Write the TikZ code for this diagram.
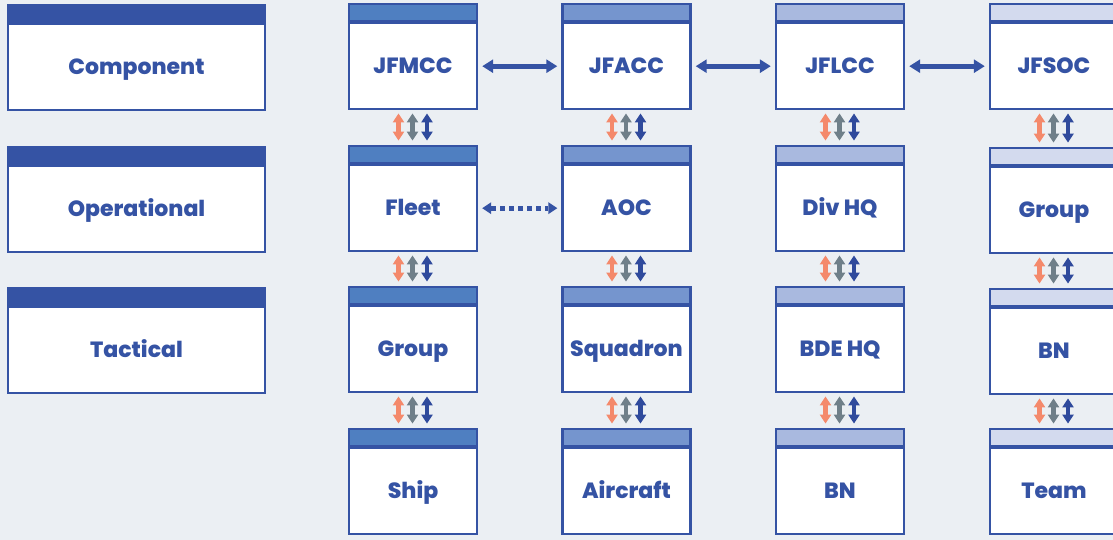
\documentclass[tikz,border=0pt]{standalone}
\usepackage{fontspec}
\setmainfont{Poppins}[BoldFont={Poppins ExtraBold}]
\usetikzlibrary{arrows.meta}
\definecolor{bg}{HTML}{EBEFF3}
\definecolor{dk}{HTML}{3553A4}
\definecolor{hA}{HTML}{4F7FC1}
\definecolor{hB}{HTML}{7595CE}
\definecolor{hC}{HTML}{A9B9DF}
\definecolor{hD}{HTML}{D3DAEE}
\definecolor{aO}{HTML}{F4896B}
\definecolor{aG}{HTML}{6F7F89}
\definecolor{aB}{HTML}{2F4A9C}
\tikzset{
  x=1pt,y=1pt,
  body/.style={draw=dk,line width=2.4pt,fill=white,minimum width=128pt,minimum height=86pt,inner sep=0pt,
    font=\fontsize{22}{24}\selectfont\bfseries,text=dk,text height=15.5pt,text depth=0pt},
  lbody/.style={body,minimum width=257pt},
  head/.style={draw=dk,line width=2.4pt,minimum width=128pt,minimum height=17pt,inner sep=0pt,anchor=south},
  lhead/.style={head,minimum width=257pt},
  harr/.style={draw=dk,line width=5pt,{Triangle[length=11pt,width=13pt]}-{Triangle[length=11pt,width=13pt]},shorten <=4pt,shorten >=4pt},
  darr/.style={draw=dk,line width=5pt,dash pattern=on 5pt off 4pt,shorten <=4pt,shorten >=4pt,
    {Triangle[length=9pt,width=12pt,line width=0pt]}-{Triangle[length=9pt,width=12pt,line width=0pt]}},
  varr/.style={line width=4.5pt,{Triangle[length=9pt,width=11pt]}-{Triangle[length=9pt,width=11pt]},shorten <=3pt,shorten >=4pt},
}
% \card{name}{x center}{y top}{header colour}{text}
\newcommand\card[5]{%
  \node[body] (#1) at (#2,-#3-1.2-17-43) {#5};
  \node[head,fill=#4] (#1h) at (#1.north) {};
}
\newcommand\vtrip[2]{%
  \draw[varr,aO] ([xshift=-14.5pt]#1.south) -- ([xshift=-14.5pt]#2h.north);
  \draw[varr,aG] ([xshift=-0.5pt]#1.south) -- ([xshift=-0.5pt]#2h.north);
  \draw[varr,aB] ([xshift=14pt]#1.south) -- ([xshift=14pt]#2h.north);
}
\begin{document}
\begin{tikzpicture}
\useasboundingbox[fill=bg] (0,0) rectangle (1113,-540);
% level labels
\node[lbody] (comp) at (136.5,-67.2) {Component};
\node[lhead,fill=dk] (comph) at (comp.north) {};
\node[lbody] (oper) at (136.5,-209.2) {Operational};
\node[lhead,fill=dk] (operh) at (oper.north) {};
\node[lbody] (tact) at (136.5,-350.2) {Tactical};
\node[lhead,fill=dk] (tacth) at (tact.north) {};
% column 1
\card{jfmcc}{413}{5}{hA}{JFMCC}
\card{fleet}{413}{147}{hA}{Fleet}
\card{groupA}{413}{288}{hA}{Group}
\card{ship}{413}{430}{hA}{Ship}
% column 2
\card{jfacc}{626.5}{5}{hB}{JFACC}
\card{aoc}{626.5}{147}{hB}{AOC}
\card{sqd}{626.5}{288}{hB}{Squadron}
\card{acft}{626.5}{430}{hB}{Aircraft}
% column 3
\card{jflcc}{840}{5}{hC}{JFLCC}
\card{divhq}{840}{147}{hC}{Div HQ}
\card{bdehq}{840}{288}{hC}{BDE HQ}
\card{bnA}{840}{430}{hC}{BN}
% column 4
\card{jfsoc}{1054}{5}{hD}{JFSOC}
\card{groupB}{1054}{149}{hD}{Group}
\card{bnB}{1054}{290}{hD}{BN}
\card{team}{1054}{430}{hD}{Team}
% horizontal connectors
\draw[harr] (jfmcc) -- (jfacc);
\draw[harr] (jfacc) -- (jflcc);
\draw[harr] (jflcc) -- (jfsoc);
\draw[darr] (fleet) -- (aoc);
% vertical connectors
\vtrip{jfmcc}{fleet}
\vtrip{fleet}{groupA}
\vtrip{groupA}{ship}
\vtrip{jfacc}{aoc}
\vtrip{aoc}{sqd}
\vtrip{sqd}{acft}
\vtrip{jflcc}{divhq}
\vtrip{divhq}{bdehq}
\vtrip{bdehq}{bnA}
\vtrip{jfsoc}{groupB}
\vtrip{groupB}{bnB}
\vtrip{bnB}{team}
\end{tikzpicture}
\end{document}
